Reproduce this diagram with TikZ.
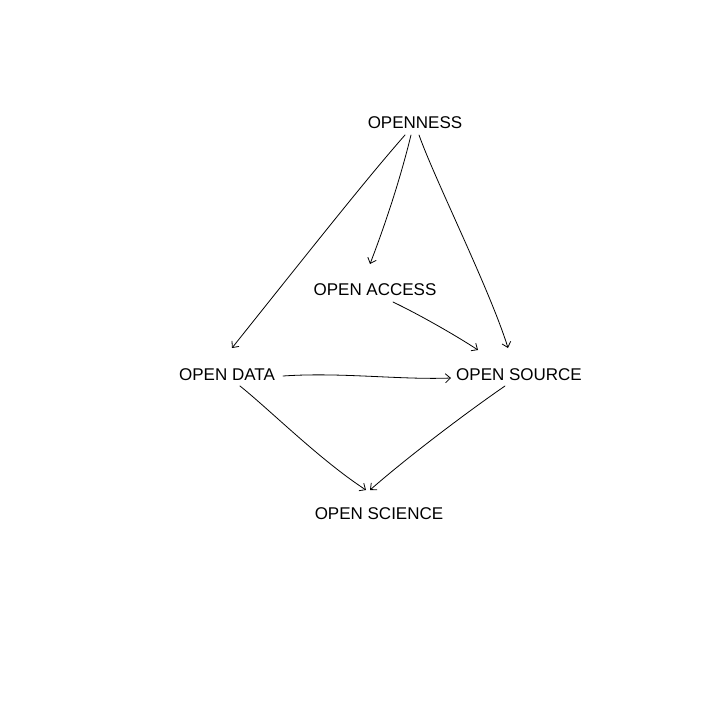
\documentclass[tikz,border=0pt]{standalone}
\usepackage{fontspec}
\setmainfont{Liberation Sans}
\usetikzlibrary{arrows.meta,calc}
\begin{document}
\begin{tikzpicture}[x=1pt,y=-1pt,
  lbl/.style={font=\fontsize{17}{20}\selectfont, inner sep=2pt},
  edge/.style={draw, line width=0.8pt, line cap=round, -{Straight Barb[length=5pt,width=9pt]}}]
\useasboundingbox (0,0) rectangle (720,720);
\node[lbl] (openness) at (415,123) {OPENNESS};
\node[lbl] (access) at (375,290) {OPEN ACCESS};
\node[lbl] (data) at (227,375) {OPEN DATA};
\node[lbl] (source) at (519,375) {OPEN SOURCE};
\node[lbl] (science) at (379,514) {OPEN SCIENCE};

\draw[edge] ($(openness)+(-10,12)$) .. controls (370,175) and (330,225) .. ($(data)+(5,-27)$);
\draw[edge] ($(openness)+(-4,12)$) .. controls (400,180) and (385,225) .. ($(access)+(-5,-26)$);
\draw[edge] ($(openness)+(4,12)$) .. controls (435,180) and (490,290) .. ($(source)+(-11,-27)$);
\draw[edge] ($(access)+(18,12)$) .. controls (420,315) and (455,335) .. ($(source)+(-41,-25)$);
\draw[edge] ($(data)+(56,1)$) .. controls (340,372) and (400,380) .. ($(source)+(-68,3)$);
\draw[edge] ($(data)+(13,11)$) .. controls (270,410) and (320,460) .. ($(science)+(-13,-24)$);
\draw[edge] ($(source)+(-14,11)$) .. controls (470,410) and (410,455) .. ($(science)+(-9,-24)$);
\end{tikzpicture}
\end{document}
